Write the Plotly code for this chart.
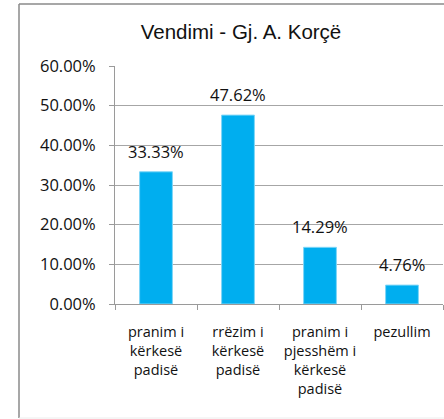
import plotly.graph_objects as go

categories = ["pranim i<br>kërkesë<br>padisë", "rrëzim i<br>kërkesë<br>padisë",
              "pranim i<br>pjesshëm i<br>kërkesë<br>padisë", "pezullim"]
values = [0.3333, 0.4762, 0.1429, 0.0476]
title = "Vendimi - Gj. A. Korçë"

W, H = 444, 419
L, R, T, B = 115, 1, 66, 115
pw, ph = W - L - R, H - T - B
FONT = "Open Sans, Lato, sans-serif"

fig = go.Figure(go.Bar(
    x=categories, y=values, width=0.4,
    marker=dict(color="#00AEEF", line=dict(color="#7FD6F7", width=1)),
))

for c, v in zip(categories, values):
    fig.add_annotation(x=c, y=v, text=f"{v:.2%}", showarrow=False,
                       yanchor="bottom", xanchor="center", yshift=7,
                       font=dict(family=FONT, size=16.5, color="#111111"))

fig.update_layout(
    width=W, height=H,
    margin=dict(l=L, r=R, t=T, b=B),
    paper_bgcolor="white", plot_bgcolor="white",
    showlegend=False,
    title=dict(text=title, x=241 / W, xanchor="center", y=1 - 32 / H, yanchor="middle",
               font=dict(family="Liberation Sans, Arial, sans-serif", size=20.5, color="#111111")),
    xaxis=dict(tickson="boundaries", ticks="outside", ticklen=5, tickcolor="#9a9a9a",
               showline=True, linecolor="#9a9a9a", linewidth=1, showgrid=False,
               ticklabelstandoff=15,
               tickfont=dict(family=FONT, size=14.5, color="#111111")),
    yaxis=dict(range=[0, 0.6], dtick=0.1, tickformat=".2%", ticks="outside", ticklen=5,
               tickcolor="#9a9a9a", showline=True, linecolor="#9a9a9a", linewidth=1,
               showgrid=True, gridcolor="#a6a6a6", gridwidth=1, zeroline=False,
               ticklabelstandoff=10,
               tickfont=dict(family=FONT, size=16.5, color="#111111")),
    bargap=0.6,
)

# outer chart frame: left and top edges visible, bottom very faint, right edge cut off
def px_x(p):
    return (p - L) / pw

def px_y(p):
    return (H - B - p) / ph

fig.add_shape(type="line", xref="paper", yref="paper",
              x0=px_x(19), x1=px_x(19), y0=px_y(418), y1=px_y(4),
              line=dict(color="#8a8a8a", width=1.5), layer="below")
fig.add_shape(type="line", xref="paper", yref="paper",
              x0=px_x(19), x1=px_x(444), y0=px_y(4), y1=px_y(4),
              line=dict(color="#8a8a8a", width=1.5), layer="below")
fig.add_shape(type="line", xref="paper", yref="paper",
              x0=px_x(19), x1=px_x(444), y0=px_y(418), y1=px_y(418),
              line=dict(color="#ececec", width=1), layer="below")

fig.write_html("out.html", config={"displayModeBar": False},
               post_script="document.body.style.margin='0';"
                           "document.body.style.overflow='hidden';"
                           "document.documentElement.style.overflow='hidden';")
